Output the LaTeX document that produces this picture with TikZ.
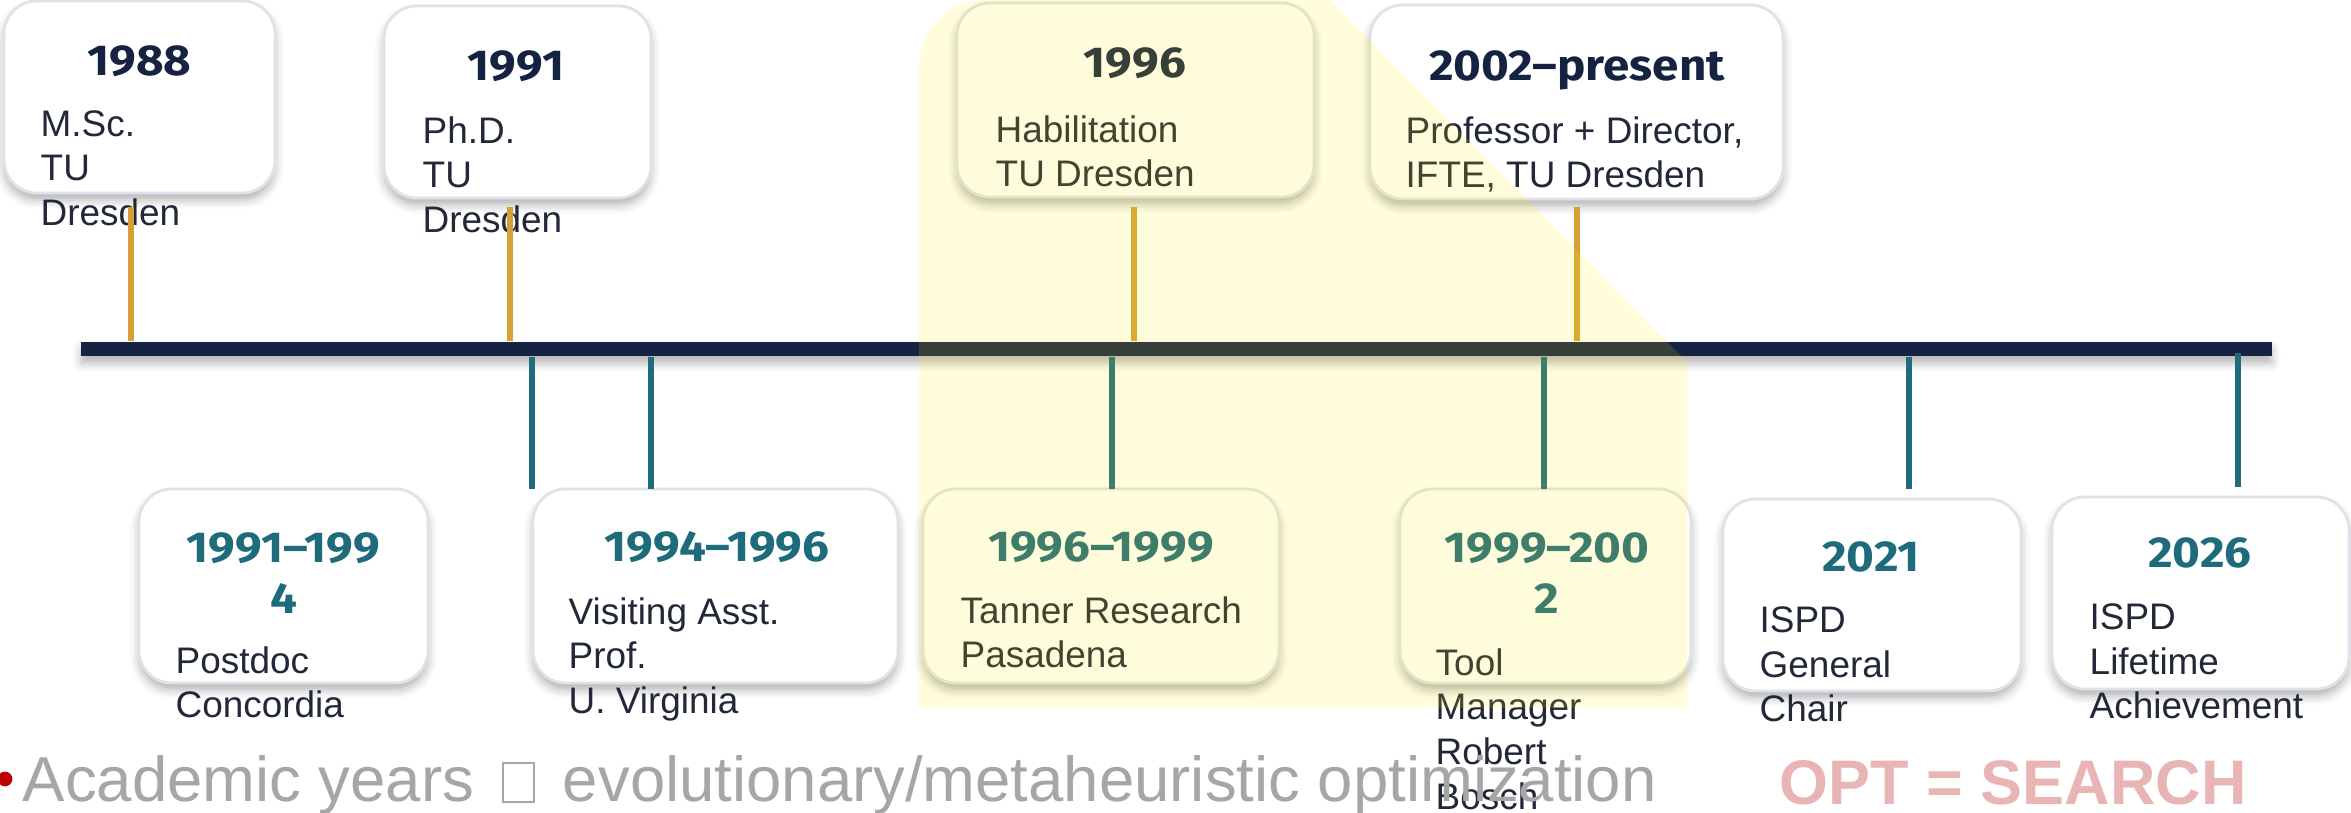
\documentclass[tikz,border=0pt]{standalone}
\usepackage{fontspec}
\setmainfont{Liberation Sans}
\newfontfamily\yearfont{Fira Sans}[Ligatures=TeX, FakeStretch=1.1]
\usetikzlibrary{shadows.blur}

\definecolor{navy}{RGB}{22,34,66}
\definecolor{ink}{RGB}{34,40,56}
\definecolor{tealline}{RGB}{30,107,124}
\definecolor{gold}{RGB}{214,160,56}
\definecolor{boxedge}{RGB}{222,226,234}
\definecolor{hilite}{RGB}{255,240,0}
\definecolor{capgray}{RGB}{166,166,166}
\definecolor{bulletred}{RGB}{192,0,0}
\definecolor{optpink}{RGB}{232,180,180}

% empty glyph box in the bottom line
\newcommand{\tofu}{{\fboxsep=0pt\fboxrule=0.5pt\fbox{\rule{0pt}{10.6pt}\hspace{8.2pt}}}}

\begin{document}
\begin{tikzpicture}[x=0.01cm, y=-0.01cm,
    card/.style={draw=boxedge, line width=0.8pt, fill=white, rounded corners=0.33cm,
        blur shadow={shadow xshift=0pt, shadow yshift=-2pt, shadow blur radius=2.5pt, shadow opacity=30}},
    year/.style={font=\yearfont\bfseries\fontsize{12.3}{14.5}\selectfont, inner sep=0pt, align=center},
    info/.style={font=\fontsize{10.5}{12.66}\selectfont, text=ink, inner sep=0pt, align=left, anchor=north west},
    upstem/.style={draw=gold, line width=1.7pt},
    downstem/.style={draw=tealline, line width=1.7pt}]
    \useasboundingbox (0,0) rectangle (2351,813);

    % Draw the time line
    \node[fill=navy, minimum width=21.89cm, minimum height=0.14cm, inner sep=0pt,
        blur shadow={shadow xshift=0pt, shadow yshift=-2pt, shadow blur radius=2.5pt, shadow opacity=30}]
        (bar) at (1176.5,349) {};

    % Cards above the line
    \node[card, minimum width=2.71cm, minimum height=1.92cm] (c88) at (139.5,97) {};
    \node[year, text=navy, anchor=base] (y88) at (139.5,76) {1988};
    \node[info] (i88) at (40,110) {M.Sc.\\TU\\Dresden};

    \node[card, minimum width=2.67cm, minimum height=1.92cm] (c91) at (517.5,102) {};
    \node[year, text=navy, anchor=base] (y91) at (516,81) {1991};
    \node[info] (i91) at (422,116) {Ph.D.\\TU\\Dresden};

    \node[card, minimum width=3.57cm, minimum height=1.94cm] (c96) at (1135.5,100) {};
    \node[year, text=navy, anchor=base] (y96) at (1135,78) {1996};
    \node[info] (i96) at (995,115) {Habilitation\\TU Dresden};

    \node[card, minimum width=4.13cm, minimum height=1.94cm] (c02) at (1576.5,102) {};
    \node[year, text=navy, anchor=base] (y02) at (1577,81) {2002--present};
    \node[info] (i02) at (1405,116) {Professor + Director,\\IFTE, TU Dresden};

    % Cards below the line
    \node[card, minimum width=2.89cm, minimum height=1.94cm] (c9194) at (283.5,586) {};
    \node[year, text=tealline, anchor=north] (y9194) at (283.5,532) {1991--199\\4};
    \node[info] (i9194) at (175,646) {Postdoc\\Concordia};

    \node[card, minimum width=3.65cm, minimum height=1.94cm] (c9496) at (715.5,586) {};
    \node[year, text=tealline, anchor=base] (y9496) at (717,562) {1994--1996};
    \node[info] (i9496) at (568,597) {Visiting Asst.\\Prof.\\U. Virginia};

    \node[card, minimum width=3.56cm, minimum height=1.94cm] (c9699) at (1101,586) {};
    \node[year, text=tealline, anchor=base] (y9699) at (1101,562) {1996--1999};
    \node[info] (i9699) at (960,596) {Tanner Research\\Pasadena};

    \node[card, minimum width=2.91cm, minimum height=1.94cm] (c9902) at (1545.5,586) {};
    \node[year, text=tealline, anchor=north] (y9902) at (1547,532) {1999--200\\2};
    \node[info] (i9902) at (1435,648) {Tool\\Manager\\Robert\\Bosch};

    \node[card, minimum width=2.98cm, minimum height=1.92cm] (c21) at (1872,595) {};
    \node[year, text=tealline, anchor=base] (y21) at (1871,572) {2021};
    \node[info] (i21) at (1759,606) {ISPD\\General\\Chair};

    \node[card, minimum width=2.97cm, minimum height=1.92cm] (c26) at (2200.5,593) {};
    \node[year, text=tealline, anchor=base] (y26) at (2200,568) {2026};
    \node[info] (i26) at (2089,603) {ISPD\\Lifetime\\Achievement};

    % Stems up to the cards
    \coordinate (g88) at (131,207);
    \coordinate (g91) at (510,207);
    \coordinate (g96) at (1134,207);
    \coordinate (g02) at (1577,207);
    \draw[upstem] (g88) -- (g88 |- bar.north);
    \draw[upstem] (g91) -- (g91 |- bar.north);
    \draw[upstem] (g96) -- (g96 |- bar.north);
    \draw[upstem] (g02) -- (g02 |- bar.north);

    % Stems down to the cards
    \coordinate (t9194) at (532,489);
    \coordinate (t9496) at (651,489);
    \coordinate (t9699) at (1111.5,489);
    \coordinate (t9902) at (1544,489);
    \coordinate (t21) at (1909,489);
    \coordinate (t26) at (2237.5,487);
    \draw[downstem] (bar.south -| t9194) -- (t9194);
    \draw[downstem] (bar.south -| t9496) -- (t9496);
    \draw[downstem] (bar.south -| t9699) -- (t9699);
    \draw[downstem] (bar.south -| t9902) -- (t9902);
    \draw[downstem] (bar.south -| t21) -- (t21);
    \draw[downstem] ([yshift=1pt]bar.south -| t26) -- (t26);

    % Highlighted period
    \fill[hilite, fill opacity=0.14] (919,708) -- (919,67) .. controls (919,30) and (949,0) .. (986,0)
        -- (1330,0) -- (1687,362) -- (1687,708) -- cycle;

    % Bottom line
    \fill[bulletred] (5,779) circle (2.1pt);
    \node[font=\fontsize{18.05}{20}\selectfont, text=capgray, anchor=base west, inner sep=0pt] (note) at (22,801)
        {Academic years \hspace{3pt}\tofu\hspace{3pt} evolutionary/metaheuristic optimization};
    \node[font=\bfseries\fontsize{17.9}{20}\selectfont, text=optpink, anchor=base west, inner sep=0pt] (opt) at (1779,805)
        {OPT = SEARCH};

\end{tikzpicture}
\end{document}
